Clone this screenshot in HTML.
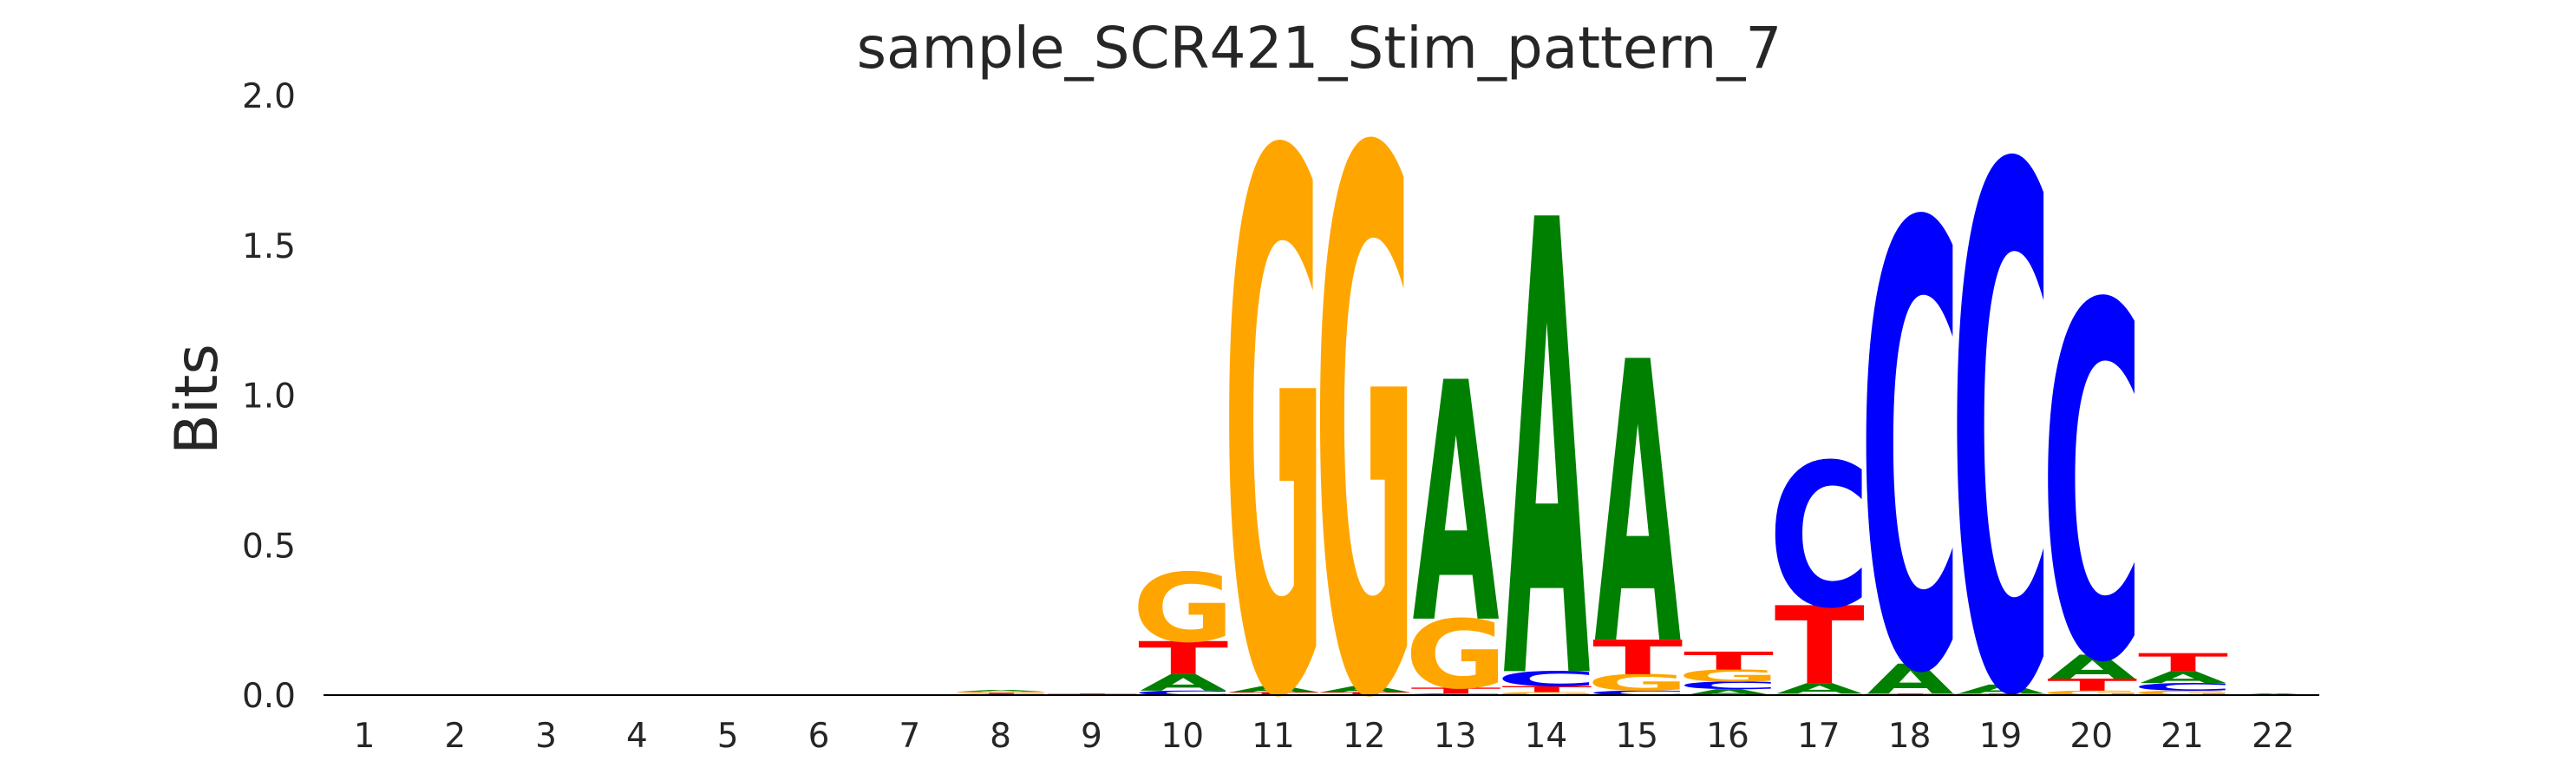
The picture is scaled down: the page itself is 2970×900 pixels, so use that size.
<!DOCTYPE html>
<html><head><meta charset="utf-8"><style>
html,body{margin:0;padding:0;background:#fff;overflow:hidden;width:2970px;height:900px;}
svg{display:block;font-family:"DejaVu Sans","Liberation Sans",sans-serif;}
</style></head><body>
<svg id="chart" width="2970" height="900" viewBox="0 0 2970 900" xmlns="http://www.w3.org/2000/svg" style="overflow:hidden">
<text x="1521" y="78" font-size="66" text-anchor="middle" fill="#262626">sample_SCR421_Stim_pattern_7</text>
<text transform="translate(250,460) rotate(-90)" font-size="68" text-anchor="middle" fill="#262626">Bits</text>
<g id="yticks"></g>
<g id="xticks"></g>
<g id="letters"></g>
<line x1="373" y1="801" x2="2674" y2="801" stroke="#000" stroke-width="2"/>
</svg>
<script>
const positions = ["1","2","3","4","5","6","7","8","9","10","11","12","13","14","15","16","17","18","19","20","21","22"];
const yTickValues = [0, 0.5, 1.0, 1.5, 2.0];
const yTickLabels = ["0.0","0.5","1.0","1.5","2.0"];
// stacks bottom -> top: [letter, bits]
const stack1 = [];
const stack2 = [];
const stack3 = [];
const stack4 = [];
const stack5 = [];
const stack6 = [];
const stack7 = [];
const stack8 = [["C",0.004],["T",0.004],["G",0.004],["A",0.005]];
const stack9 = [["T",0.005]];
const stack10 = [["C",0.015],["A",0.055],["T",0.11],["G",0.23]];
const stack11 = [["T",0.01],["A",0.02],["G",1.79]];
const stack12 = [["T",0.01],["A",0.02],["G",1.80]];
const stack13 = [["C",0.005],["T",0.02],["G",0.23],["A",0.80]];
const stack14 = [["G",0.01],["T",0.02],["C",0.05],["A",1.52]];
const stack15 = [["C",0.015],["G",0.055],["T",0.115],["A",0.94]];
const stack16 = [["A",0.02],["C",0.025],["G",0.04],["T",0.06]];
const stack17 = [["G",0.005],["A",0.035],["T",0.26],["C",0.48]];
const stack18 = [["T",0.005],["A",0.10],["C",1.48]];
const stack19 = [["T",0.005],["A",0.03],["C",1.74]];
const stack20 = [["G",0.015],["T",0.04],["A",0.08],["C",1.18]];
const stack21 = [["G",0.015],["C",0.025],["A",0.04],["T",0.06]];
const stack22 = [["A",0.005]];
const stacks = [stack1,stack2,stack3,stack4,stack5,stack6,stack7,stack8,stack9,stack10,stack11,stack12,stack13,stack14,stack15,stack16,stack17,stack18,stack19,stack20,stack21,stack22];

const colors = {A:"#008000", C:"#0000ff", G:"#ffa500", T:"#ff0000"};
const advance = {A:100, C:118, G:118, T:104};
const NS = "http://www.w3.org/2000/svg";
const y0 = 801, pxPerBit = 345.5;
const x0 = 420, step = 104.8;
function yScale(v){ return y0 - v*pxPerBit; }
function xScale(i){ return x0 + i*step; }

const yt = document.getElementById('yticks');
yTickValues.forEach((v,i)=>{
  const t = document.createElementNS(NS,'text');
  
  
  t.setAttribute('x', 341); t.setAttribute('y', yScale(v)+14);
  t.setAttribute('font-size', 39); t.setAttribute('text-anchor','end'); t.setAttribute('fill','#262626');
  t.textContent = yTickLabels[i];
  yt.appendChild(t);
});
const xt = document.getElementById('xticks');
positions.forEach((p,i)=>{
  const t = document.createElementNS(NS,'text');
  
  
  t.setAttribute('x', xScale(i)); t.setAttribute('y', 861);
  t.setAttribute('font-size', 39); t.setAttribute('text-anchor','middle'); t.setAttribute('fill','#262626');
  t.textContent = p;
  xt.appendChild(t);
});
const lg = document.getElementById('letters');
stacks.forEach((st,i)=>{
  let cum = 0;
  st.forEach(([L,h])=>{
    const bottom = yScale(cum);
    const hp = h*pxPerBit;
    cum += h;
    if (hp < 0.3) return;
    const w = advance[L];
    const t = document.createElementNS(NS,'text');
    
    
    t.setAttribute('x', 0); t.setAttribute('y', 0);
    t.setAttribute('font-size', 100);
    t.setAttribute('font-weight', 'bold');
    t.setAttribute('textLength', w);
    t.setAttribute('lengthAdjust', 'spacingAndGlyphs');
    t.setAttribute('fill', colors[L]);
    t.setAttribute('transform', `translate(${xScale(i)-w/2+1},${bottom}) scale(1,${hp/72.9})`);
    t.textContent = L;
    lg.appendChild(t);
  });
});
</script>
</body></html>
